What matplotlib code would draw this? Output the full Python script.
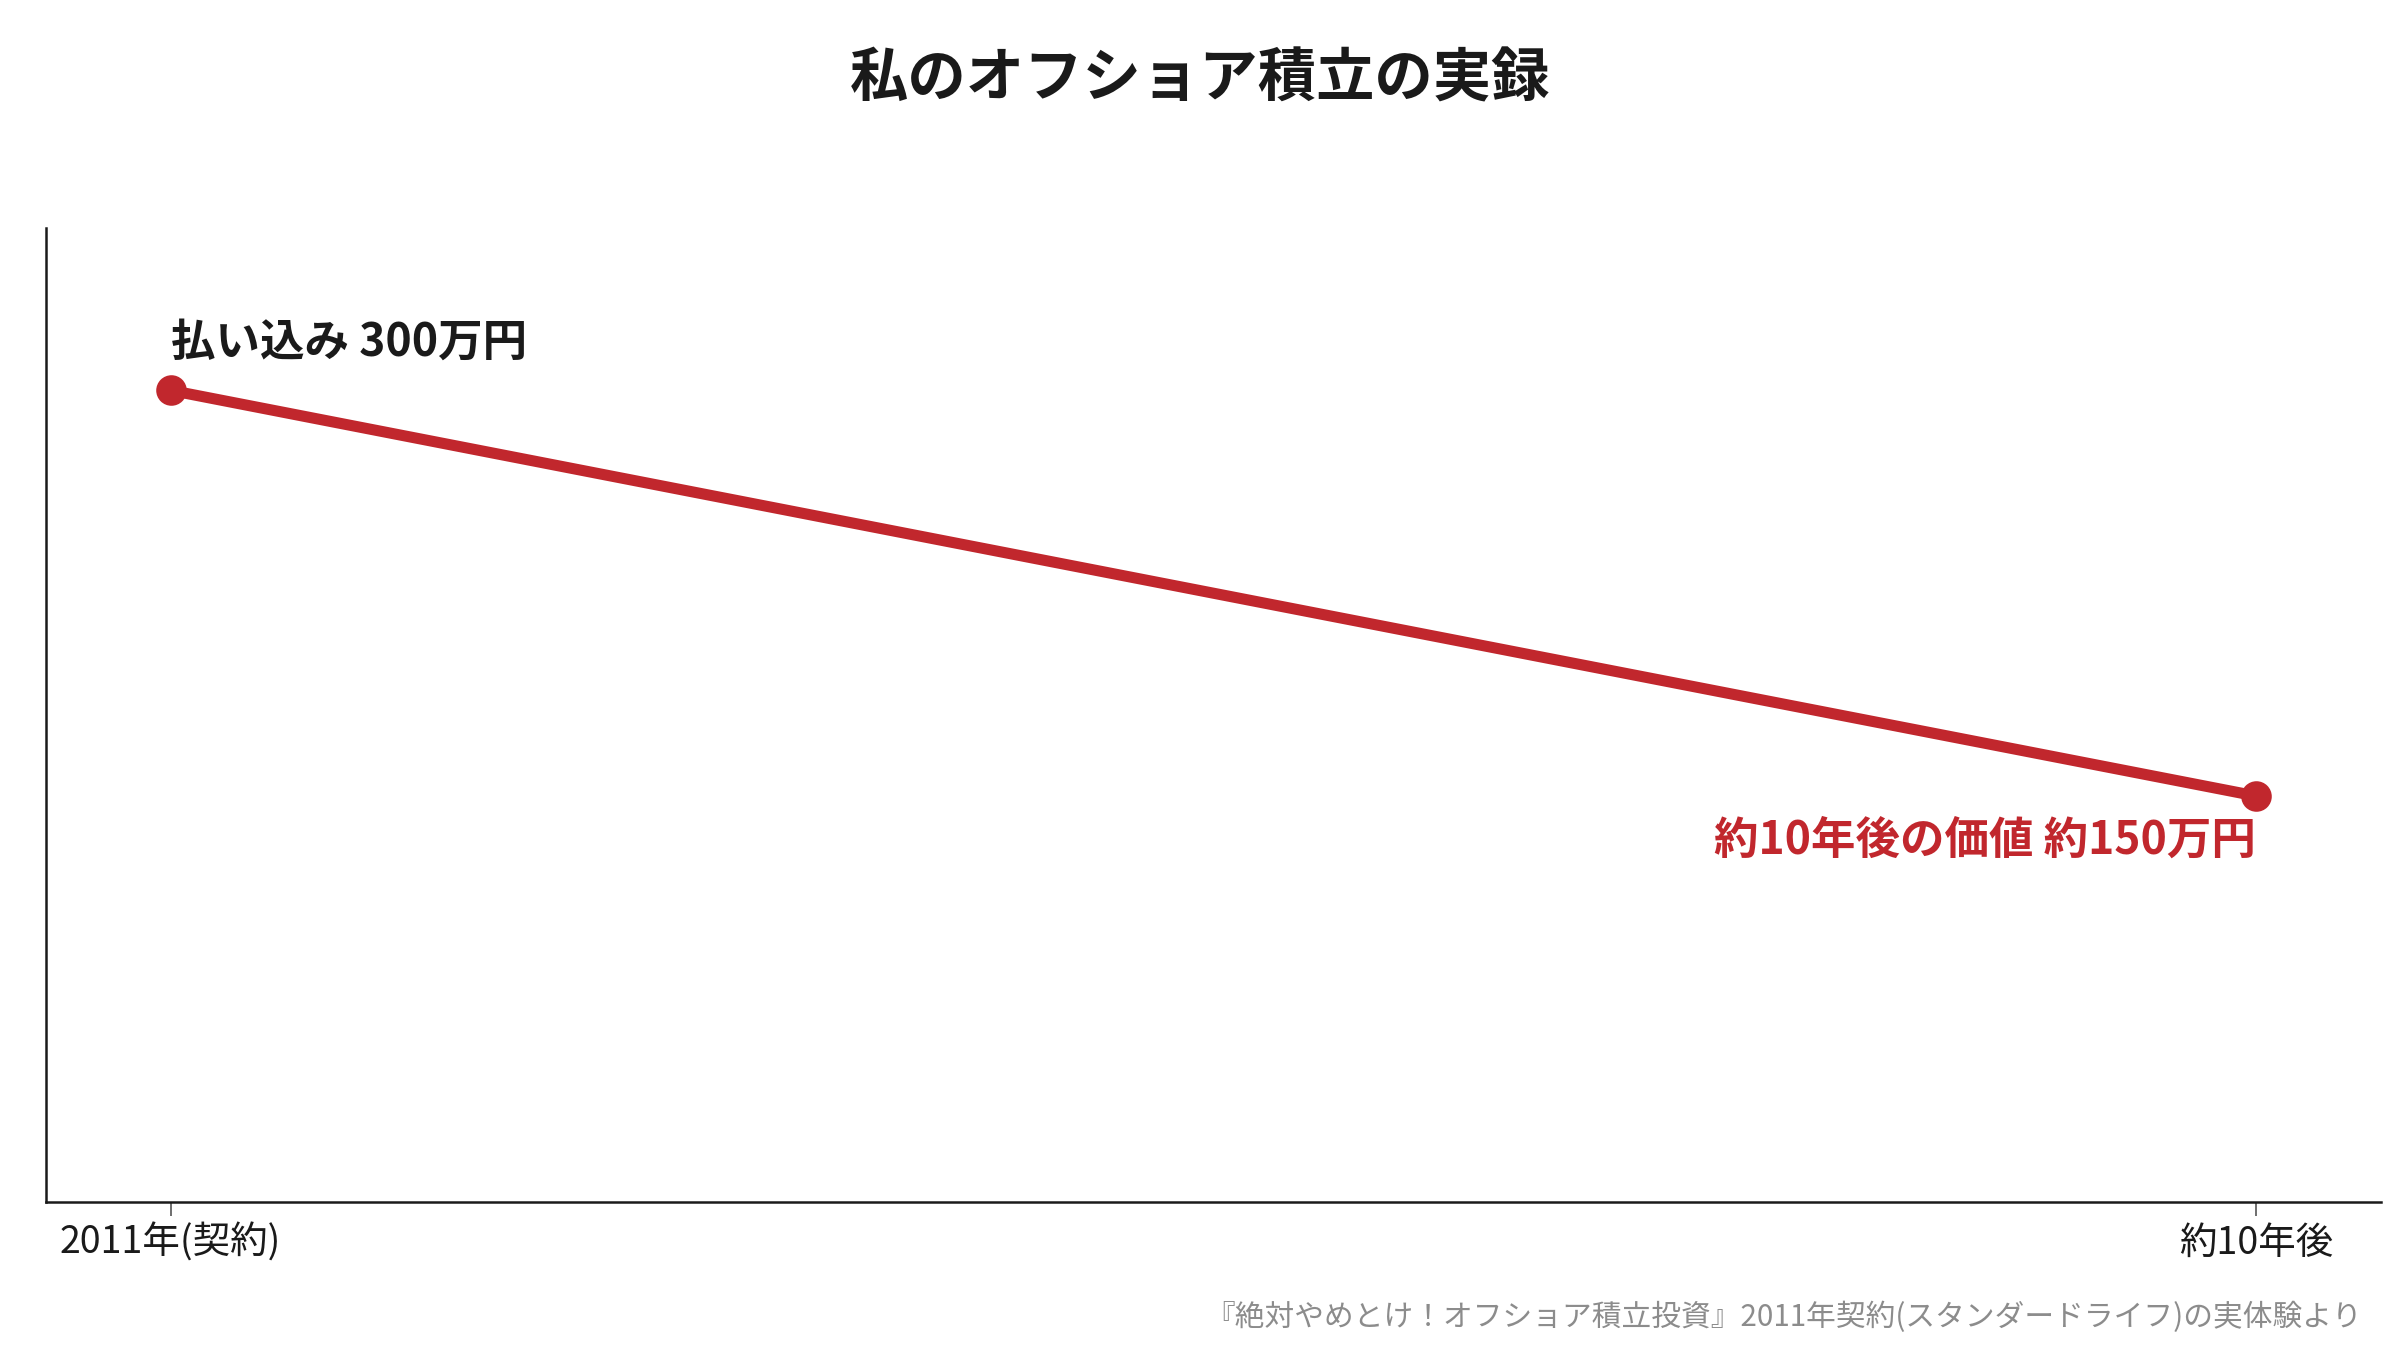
import matplotlib
matplotlib.use("Agg")
import matplotlib.pyplot as plt

plt.rcParams['font.family'] = ['Noto Sans CJK JP', 'DejaVu Sans']

# データ
labels = ['2011年(契約)', '約10年後']
values = [300, 150]
notes = ['払い込み 300万円', '約10年後の価値 約150万円']

red = '#C1272D'
dark = '#1a1a1a'

fig, ax = plt.subplots(figsize=(12, 6.75), dpi=200)
fig.subplots_adjust(left=0.019, right=0.992, top=0.831, bottom=0.11)

x = list(range(len(values)))
ax.plot(x, values, color=red, linewidth=4, marker='o', markersize=10,
        solid_capstyle='round', zorder=3)

ax.set_xlim(-0.06, 1.06)
ax.set_ylim(0, 360)
ax.set_xticks(x)
ax.set_xticklabels(labels, fontsize=13.5, color=dark)
ax.set_yticks([])
ax.tick_params(axis='x', length=5, width=0.6, color='#555555', pad=3)

for s in ['top', 'right']:
    ax.spines[s].set_visible(False)
for s in ['left', 'bottom']:
    ax.spines[s].set_color(dark)
    ax.spines[s].set_linewidth(0.9)

# 注釈
ax.annotate(notes[0], (x[0], values[0]), xytext=(0, 9), textcoords='offset points',
            ha='left', va='bottom', fontsize=16, fontweight='bold', color=dark)
ax.annotate(notes[1], (x[1], values[1]), xytext=(0, -8), textcoords='offset points',
            ha='right', va='top', fontsize=16, fontweight='bold', color=red)

fig.suptitle('私のオフショア積立の実録', x=0.5, y=0.941, va='center', fontsize=21,
             fontweight='bold', color=dark)

fig.text(0.984, 0.024, '『絶対やめとけ！オフショア積立投資』2011年契約(スタンダードライフ)の実体験より',
         ha='right', va='center', fontsize=10.7, color='#8c8c8c')

fig.savefig('out.png', dpi=200)
